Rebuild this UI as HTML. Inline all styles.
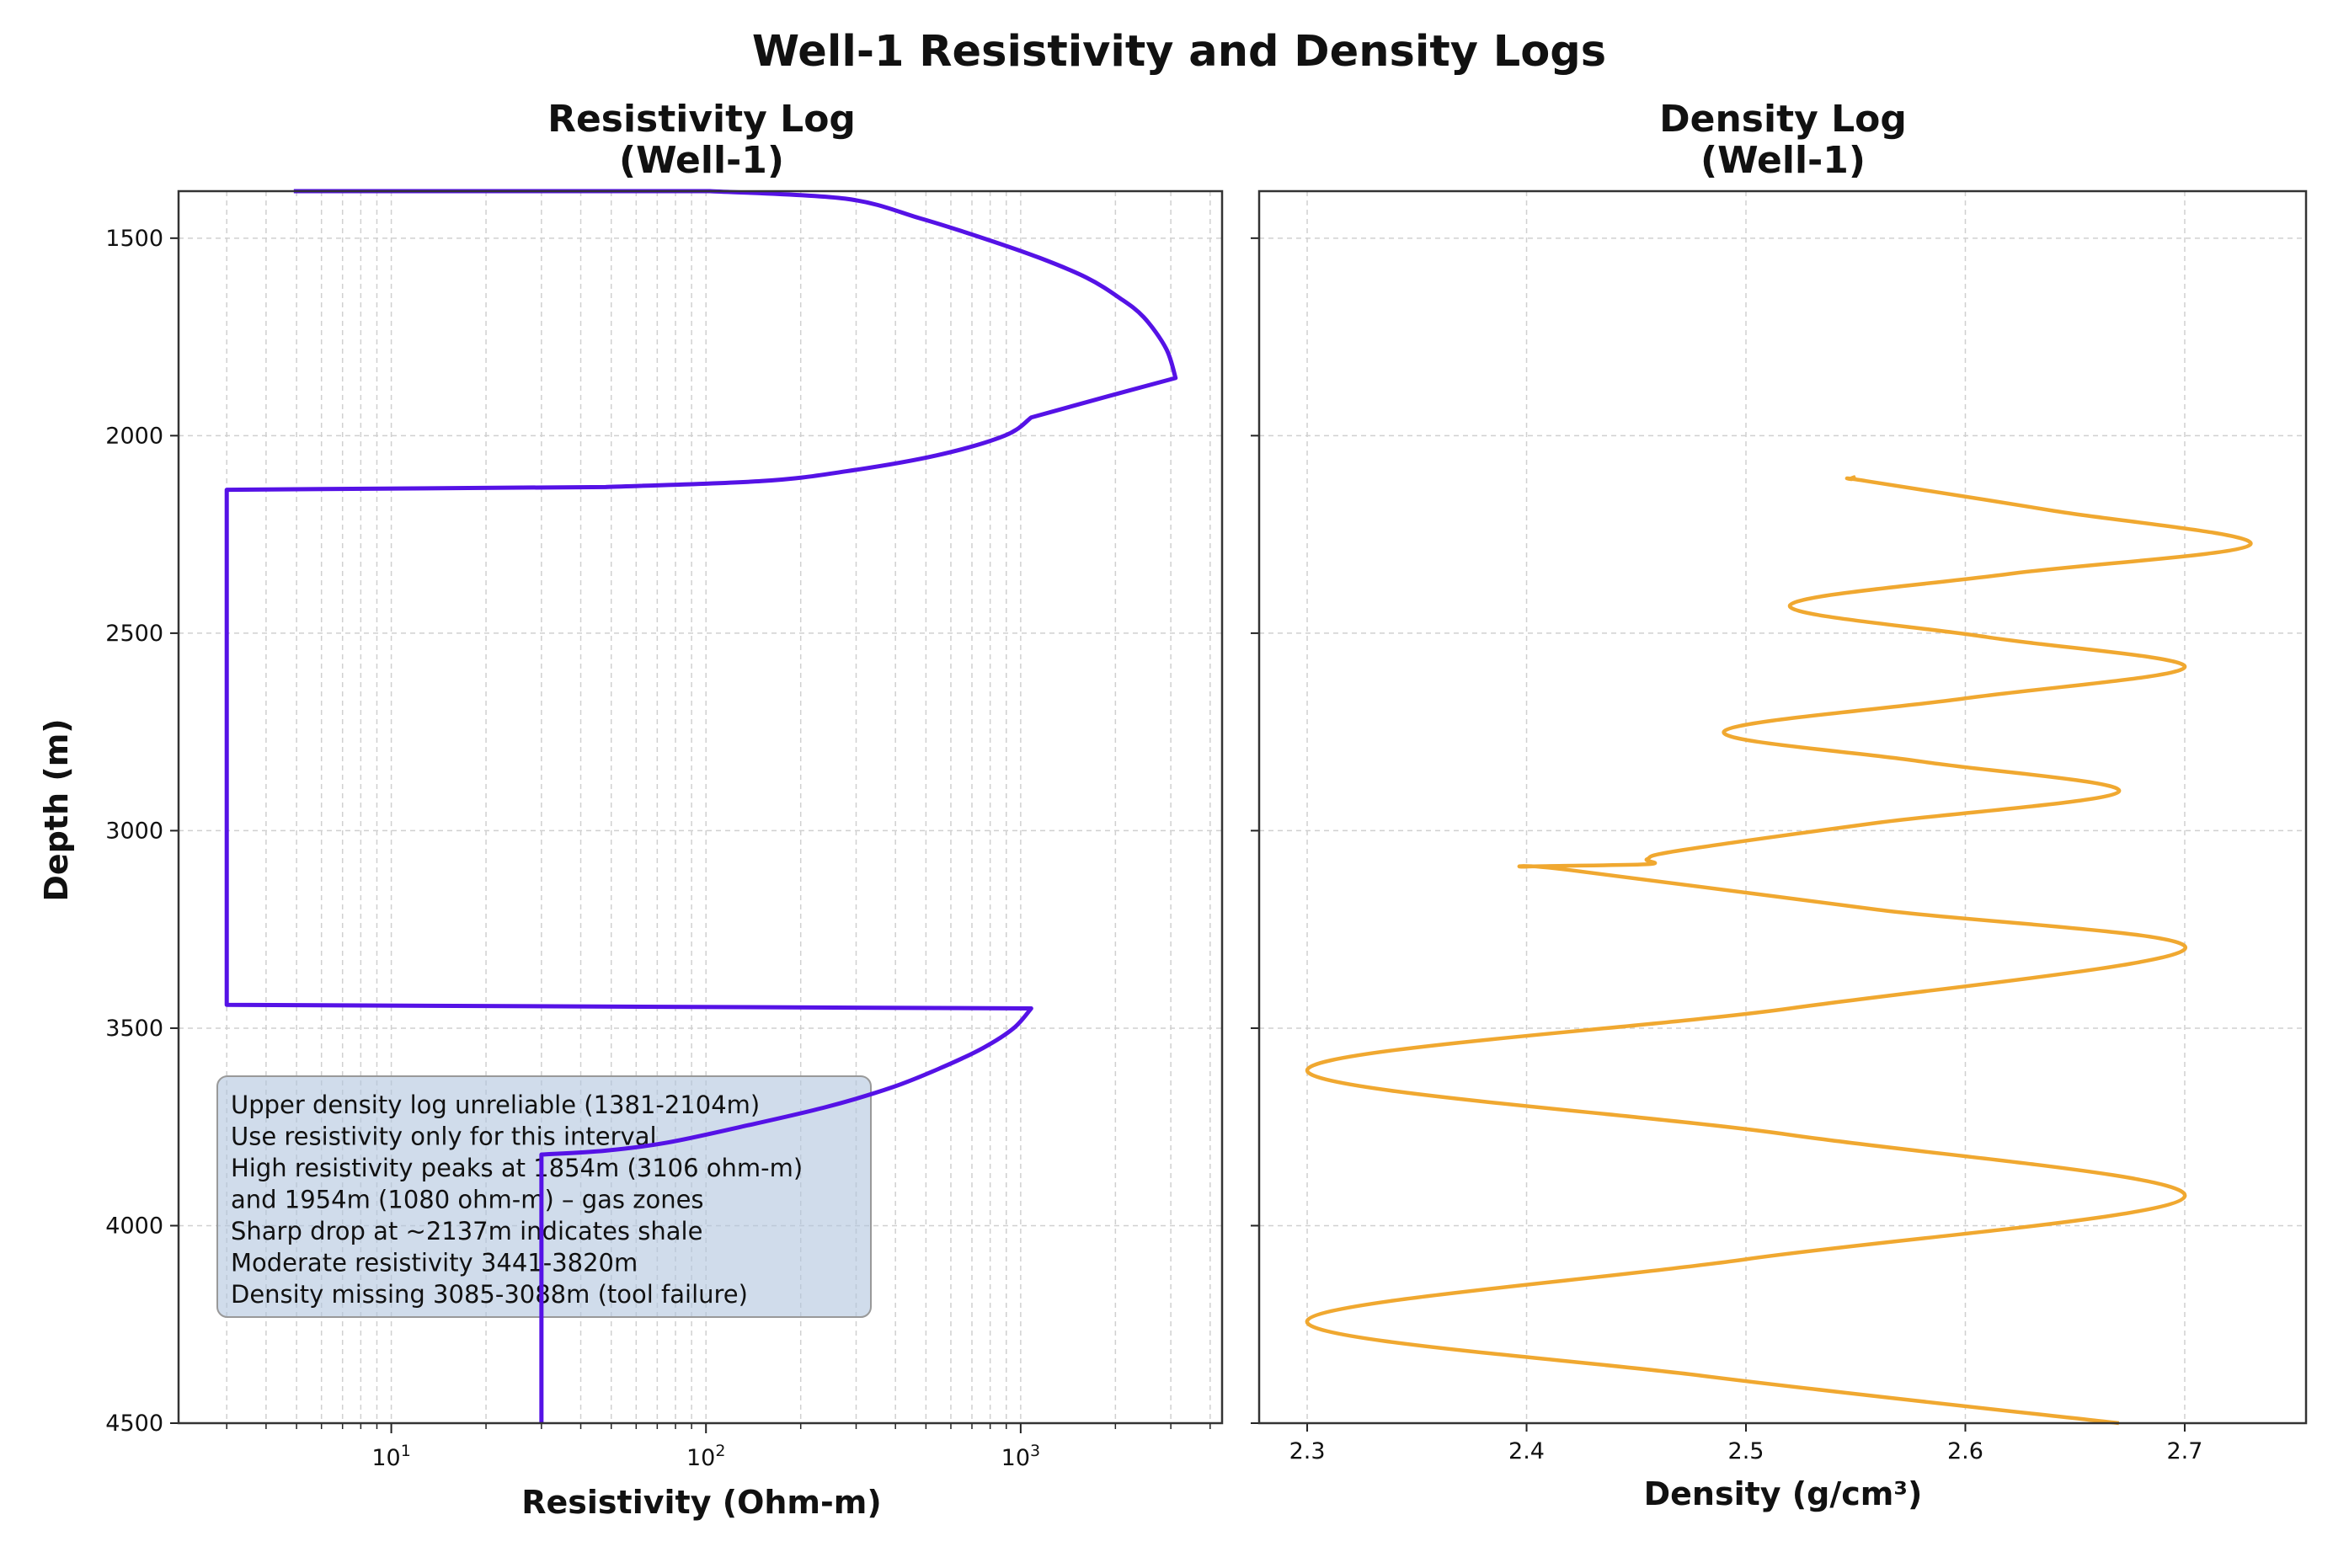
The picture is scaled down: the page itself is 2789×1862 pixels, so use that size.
<!DOCTYPE html>
<html><head><meta charset="utf-8"><style>
html,body{margin:0;padding:0;background:#fff;}
svg text{font-family:"DejaVu Sans","Liberation Sans",sans-serif;fill:#111;}
</style></head><body>
<svg id="chart" width="2789" height="1857" viewBox="0 0 2789 1857" xmlns="http://www.w3.org/2000/svg">
<rect width="2789" height="1857" fill="#fff"/>
<text x="1400" y="78" text-anchor="middle" font-size="51" font-weight="bold">Well-1 Resistivity and Density Logs</text>
<text x="833" y="156" text-anchor="middle" font-size="44" font-weight="bold">Resistivity Log</text>
<text x="833" y="205" text-anchor="middle" font-size="44" font-weight="bold">(Well-1)</text>
<text x="2117" y="156" text-anchor="middle" font-size="44" font-weight="bold">Density Log</text>
<text x="2117" y="205" text-anchor="middle" font-size="44" font-weight="bold">(Well-1)</text>
<text x="0" y="0" transform="translate(80,962) rotate(-90)" text-anchor="middle" font-size="38" font-weight="bold">Depth (m)</text>
<text x="833" y="1797" text-anchor="middle" font-size="38" font-weight="bold">Resistivity (Ohm-m)</text>
<text x="2117" y="1787" text-anchor="middle" font-size="38" font-weight="bold">Density (g/cm³)</text>
<g id="g1"></g><g id="g2"></g>
</svg>
<script>
const depthTicks=[1500,2000,2500,3000,3500,4000,4500];
const resDepth=[1381,1381,1381,1400,1450,1500,1550,1600,1650,1700,1780,1854,1900,1954,2000,2050,2090,2115,2130,2137,3441,3450,3500,3550,3600,3650,3700,3750,3790,3810,3820,4500];
const resValue=[4.9,66,103,277,480,760,1150,1620,2050,2460,2900,3106,1900,1080,890,540,280,150,48,3,3,1080,950,760,560,390,240,129,75,48,30,30];
const resBreaks=[0,2,11,13,18,19,20,21,30,31];
const denDepth=[2104,2110,2115,2190,2275,2350,2430,2510,2586,2665,2749,2825,2901,2980,3050,3072,3085,3091,3100,3200,3300,3450,3607,3770,3926,4085,4241,4380,4500];
const denValue=[2.55,2.548,2.555,2.64,2.73,2.62,2.52,2.61,2.70,2.60,2.49,2.58,2.67,2.56,2.47,2.455,2.455,2.40,2.42,2.56,2.70,2.52,2.30,2.52,2.70,2.50,2.30,2.48,2.67];
const denTicks=[2.3,2.4,2.5,2.6,2.7];
const resDecades=[1,2,3];
const NS="http://www.w3.org/2000/svg";
function mk(t,a,p){const e=document.createElementNS(NS,t);for(const k in a)e.setAttribute(k,a[k]);p.appendChild(e);return e;}
const topY=227,botY=1690,dMin=1381,dMax=4500;
const Y=d=>topY+(d-dMin)/(dMax-dMin)*(botY-topY);
const L1=212,R1=1451,lgMin=0.324,lgMax=3.64;
const X1=v=>L1+(Math.log10(v)-lgMin)/(lgMax-lgMin)*(R1-L1);
const L2=1495,R2=2738,dnMin=2.2781,dnMax=2.7553;
const X2=v=>L2+(v-dnMin)/(dnMax-dnMin)*(R2-L2);
const g1=document.getElementById('g1'),g2=document.getElementById('g2');
const grid={stroke:'#d0d0d0','stroke-width':1.5,'stroke-dasharray':'6,5'};
function smooth(pts,start){let q=start?'M'+pts[0][0]+','+pts[0][1]:'';
for(let i=0;i<pts.length-1;i++){const a=pts[Math.max(0,i-1)],b=pts[i],c=pts[i+1],e=pts[Math.min(pts.length-1,i+2)];
q+='C'+(b[0]+(c[0]-a[0])/6)+','+(b[1]+(c[1]-a[1])/6)+' '+(c[0]-(e[0]-b[0])/6)+','+(c[1]-(e[1]-b[1])/6)+' '+c[0]+','+c[1];}return q;}
for(let e=0;e<=3;e++)for(let m=1;m<10;m++){const v=m*Math.pow(10,e);if(v<Math.pow(10,lgMin)||v>Math.pow(10,lgMax))continue;const x=X1(v);
const ln=mk('line',Object.assign({x1:x,x2:x,y1:topY,y2:botY},grid),g1);


const tk=mk('line',{x1:x,x2:x,y1:botY,y2:botY+(m==1?12:7),stroke:'#222','stroke-width':m==1?2:1.5},g1);

}
resDecades.forEach(e=>{const x=X1(Math.pow(10,e));const t=mk('text',{x:x,y:botY+50,'text-anchor':'middle','font-size':27},g1);t.textContent='10';
const s=mk('tspan',{dy:-11,'font-size':19},t);s.textContent=String(e);

});
depthTicks.forEach(d=>{const y=Y(d);
const ln=mk('line',Object.assign({x1:L1,x2:R1,y1:y,y2:y},grid),g1);


mk('line',{x1:L1-10,x2:L1,y1:y,y2:y,stroke:'#222','stroke-width':2},g1);
const t=mk('text',{x:L1-18,y:y+9,'text-anchor':'end','font-size':27},g1);t.textContent=d;


const ln2=mk('line',Object.assign({x1:L2,x2:R2,y1:y,y2:y},grid),g2);


mk('line',{x1:L2-10,x2:L2,y1:y,y2:y,stroke:'#222','stroke-width':2},g2);});
denTicks.forEach(v=>{const x=X2(v);
const ln=mk('line',Object.assign({x1:x,x2:x,y1:topY,y2:botY},grid),g2);


mk('line',{x1:x,x2:x,y1:botY,y2:botY+10,stroke:'#222','stroke-width':2},g2);
const t=mk('text',{x:x,y:botY+42,'text-anchor':'middle','font-size':27},g2);t.textContent=v.toFixed(1);

});
const bx=mk('rect',{x:258,y:1278,width:776,height:286,rx:12,fill:'rgba(176,196,222,0.6)',stroke:'#999','stroke-width':2},g1);


const lines=['Upper density log unreliable (1381-2104m)','Use resistivity only for this interval','High resistivity peaks at 1854m (3106 ohm-m)','and 1954m (1080 ohm-m) – gas zones','Sharp drop at ~2137m indicates shale','Moderate resistivity 3441-3820m','Density missing 3085-3088m (tool failure)'];
lines.forEach((s,i)=>{const t=mk('text',{x:274,y:1322+i*37.5,'font-size':29},g1);t.textContent=s;

});
const rpts=resDepth.map((d,i)=>[X1(resValue[i]),Y(d)]);
let p='M'+rpts[0][0]+','+rpts[0][1];
for(let k=0;k<resBreaks.length-1;k++){const seg=rpts.slice(resBreaks[k],resBreaks[k+1]+1);
if(seg.length<=2)p+='L'+seg[seg.length-1][0]+','+seg[seg.length-1][1];else p+=smooth(seg,false);}
const rl=mk('path',{d:p,fill:'none',stroke:'#5512e6','stroke-width':5,'stroke-linejoin':'round'},g1);


const pts=denDepth.map((d,i)=>[X2(denValue[i]),Y(d)]);
const dl=mk('path',{d:smooth(pts,true),fill:'none',stroke:'#f0a830','stroke-width':4.5,'stroke-linejoin':'round'},g2);


const f1=mk('rect',{x:L1,y:topY,width:R1-L1,height:botY-topY,fill:'none',stroke:'#333','stroke-width':2.5},g1);


const f2=mk('rect',{x:L2,y:topY,width:R2-L2,height:botY-topY,fill:'none',stroke:'#333','stroke-width':2.5},g2);


</script>
</body></html>
